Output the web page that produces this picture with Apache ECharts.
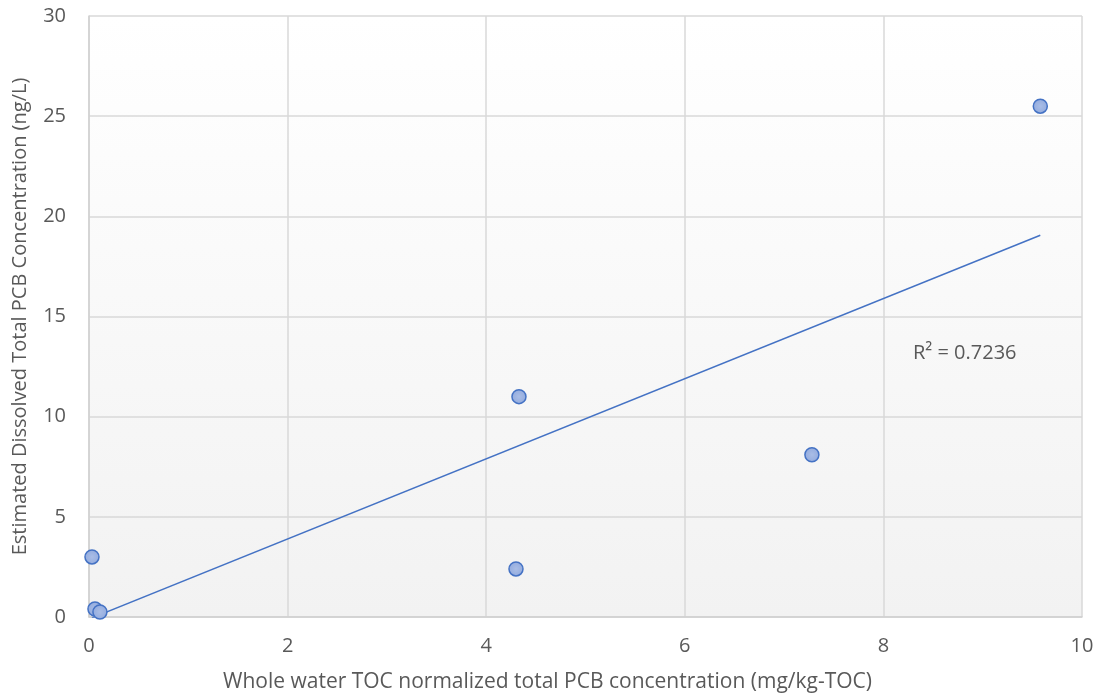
<!DOCTYPE html>
<html><head><meta charset="utf-8">
<script src="https://cdn.jsdelivr.net/npm/echarts@6/dist/echarts.min.js"></script>
<style>html,body{margin:0;padding:0;background:#fff}#c{width:1101px;height:696px}</style>
</head><body><div id="c"></div>
<script>
const xValues = [0.03, 0.06, 0.11, 4.30, 4.33, 7.28, 9.58];
const yValues = [3.0, 0.4, 0.25, 2.4, 11.0, 8.1, 25.5];
const xTitle = 'Whole water TOC normalized total PCB concentration (mg/kg-TOC)';
const yTitle = 'Estimated Dissolved Total PCB Concentration (ng/L)';
const r2Label = 'R² = 0.7236';

const pts = xValues.map((x, i) => [x, yValues[i]]);
const n = xValues.length;
const mx = xValues.reduce((a, b) => a + b, 0) / n;
const my = yValues.reduce((a, b) => a + b, 0) / n;
let sxy = 0, sxx = 0;
for (let i = 0; i < n; i++) { sxy += (xValues[i] - mx) * (yValues[i] - my); sxx += (xValues[i] - mx) ** 2; }
const slope = sxy / sxx, icpt = my - slope * mx;
const xmin = Math.min(...xValues), xmax = Math.max(...xValues);
const trend = [[xmin, icpt + slope * xmin], [xmax, icpt + slope * xmax]];

const font = '"Open Sans", "Noto Sans", sans-serif';
const chart = echarts.init(document.getElementById('c'));
chart.setOption({
  animation: false,
  grid: {
    left: 89, right: 19, top: 16, bottom: 79, show: true, borderWidth: 0,
    outerBoundsMode: 'none', containLabel: false,
    backgroundColor: new echarts.graphic.LinearGradient(0, 0, 0, 1, [
      { offset: 0, color: '#ffffff' }, { offset: 1, color: '#f2f2f2' }])
  },
  xAxis: {
    type: 'value', min: 0, max: 10, interval: 2,
    name: xTitle, nameLocation: 'middle', nameGap: 55,
    nameTextStyle: { fontFamily: font, fontSize: 21, color: '#595959', padding: [0, 76, 0, 0] },
    axisLine: { show: true, lineStyle: { color: '#d0d0d0', width: 1.5 } },
    axisTick: { show: false },
    axisLabel: { fontFamily: font, fontSize: 20, color: '#595959', margin: 19 },
    splitLine: { show: true, lineStyle: { color: '#d9d9d9', width: 1.5 } }
  },
  yAxis: {
    type: 'value', min: 0, max: 30, interval: 5,
    name: yTitle, nameLocation: 'middle', nameGap: 59,
    nameTextStyle: { fontFamily: font, fontSize: 20, color: '#595959' },
    axisLine: { show: true, lineStyle: { color: '#d0d0d0', width: 1.5 } },
    axisTick: { show: false },
    axisLabel: { fontFamily: font, fontSize: 20, color: '#595959', margin: 23 },
    splitLine: { show: true, lineStyle: { color: '#d9d9d9', width: 1.5 } }
  },
  series: [
    {
      type: 'line', data: trend, symbol: 'none', clip: true, z: 2,
      lineStyle: { color: '#4472c4', width: 1.5 }
    },
    {
      type: 'scatter', data: pts, symbol: 'circle', symbolSize: 14, z: 3,
      itemStyle: {
        color: new echarts.graphic.RadialGradient(0.5, 0.5, 0.6, [
          { offset: 0, color: '#a9bde6' }, { offset: 1, color: '#8ea7dc' }]),
        borderColor: '#4472c4', borderWidth: 1.5, opacity: 1
      }
    }
  ],
  graphic: [{
    type: 'text', x: 913, y: 353,
    style: { text: r2Label, fontFamily: font, fontSize: 20, fill: '#595959', verticalAlign: 'middle' }
  }]
});
</script></body></html>
